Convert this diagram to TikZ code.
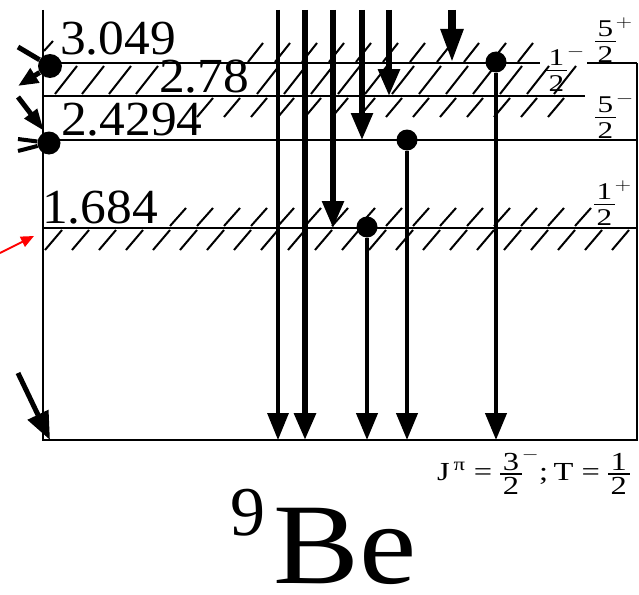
\documentclass[tikz,border=0pt]{standalone}
\usepackage{fontspec}
\usepackage{graphicx}
\setmainfont{Liberation Serif}
\usetikzlibrary{arrows.meta}
\newcommand{\fr}[3][0.1em]{\ensuremath{\vcenter{\offinterlineskip\halign{\hfil\kern0.08em##\kern0.08em\hfil\cr #2\cr\noalign{\kern#1\hrule height 0.06em\kern#1}#3\cr}}}}
\newcommand{\hatchrow}[6]{\foreach \hx in {#1,#2,...,#3}{\draw[hat] (\hx,#4) -- ++(#6,#5-#4);}}
\newcommand{\wide}[2]{\scalebox{#1}[1]{#2}}
\begin{document}
\begin{tikzpicture}[x=1pt,y=-1pt,
  lvl/.style={line width=2.6pt},
  hat/.style={line width=2pt},
  tarr/.style={line width=#1,-{Triangle[length=27pt,width=21pt]}},
  dot/.style={circle,fill=black,inner sep=0pt,minimum size=21pt},
  lab/.style={anchor=base west,inner sep=0pt,font=\fontsize{49}{49}\selectfont},
  jpl/.style={anchor=west,inner sep=0pt,font=\fontsize{24}{24}\selectfont}]
\useasboundingbox[fill=white] (0,0) rectangle (639,594);

% hatching (broad levels)
\draw[hat] (44,51) -- (53,41);
\hatchrow{248}{275}{527}{62}{43}{15}
\hatchrow{55}{82}{136}{94}{66}{22}
\hatchrow{257}{284}{555}{94}{66}{22}
\hatchrow{197}{224}{548}{117}{98}{16}
\hatchrow{170}{197}{584}{226}{208}{16}
\hatchrow{45}{72}{612}{250}{230}{17}

% frame and levels
\draw[lvl] (43,10) -- (43,440) -- (637,440) -- (637,63);
\draw[lvl] (43,63) -- (540,63);
\draw[lvl] (587,63) -- (637,63);
\draw[lvl] (43,96) -- (585,96);
\draw[lvl] (43,140) -- (637,140);
\draw[lvl] (43,228) -- (637,228);

% energy labels
\node[lab] (e3049) at (60,55) {\wide{1.05}{3.049}};
\node[lab] (e278) at (159,92) {\wide{1.05}{2.78}};
\node[lab] (e24294) at (61,135) {\wide{1.05}{2.4294}};
\node[lab] (e1684) at (42,223) {\wide{1.05}{1.684}};

% spin labels
\node[jpl] (s1) at (546,69) {\wide{1.3}{$\fr[0.18em]{1}{2}^{-}$}};
\node[jpl] (s2) at (595,40) {\wide{1.3}{$\fr[0.18em]{5}{2}^{+}$}};
\node[jpl] (s3) at (595,116) {\wide{1.3}{$\fr[0.18em]{5}{2}^{-}$}};
\node[jpl] (s4) at (594,203) {\wide{1.3}{$\fr[0.18em]{1}{2}^{+}$}};

% transitions from above
\coordinate (t1) at (278,10); \coordinate (b1) at (278,440);
\coordinate (t2) at (305,10); \coordinate (b2) at (305,440);
\coordinate (t3) at (333,10); \coordinate (b3) at (333,228);
\coordinate (t4) at (362,10); \coordinate (b4) at (362,140);
\coordinate (t5) at (389,10); \coordinate (b5) at (389,96);
\coordinate (t6) at (452,10); \coordinate (b6) at (452,63);
\draw[tarr=3.3pt] (t1) -- (b1);
\draw[tarr=6pt] (t2) -- (b2);
\draw[tarr=5.5pt] (t3) -- (b3);
\draw[tarr=5.5pt] (t4) -- (b4);
\draw[tarr=6pt] (t5) -- (b5);
\draw[tarr=8pt,-{Triangle[length=34pt,width=21pt]}] (t6) -- (b6);

% decays
\node[dot] (d1) at (367,227) {};
\node[dot] (d2) at (407,140) {};
\node[dot] (d3) at (496,62) {};
\coordinate (g1) at (367,440);
\coordinate (g2) at (407,440);
\coordinate (g3) at (496,440);
\draw[tarr=4.3pt] (d1) -- (g1);
\draw[tarr=4.3pt] (d2) -- (g2);
\draw[tarr=4.3pt] (d3) -- (g3);

% left edge (cropped transitions)
\node[dot,minimum size=24pt] (l1) at (50,66) {};
\node[dot,minimum size=23pt] (l2) at (49,143) {};
\coordinate (c1) at (18,47);
\coordinate (c2) at (18,86);
\coordinate (c3) at (18,97);
\coordinate (c4) at (44,131);
\coordinate (c5) at (18,139);
\coordinate (c6) at (18,151);
\draw[line width=5pt] (c1) -- (l1);
\draw[line width=5pt,-{Triangle[length=20pt,width=16pt]}] (l1) -- (c2);
\draw[line width=5pt,-{Triangle[length=22pt,width=15pt]}] (c3) -- (c4);
\draw[line width=4pt] (c5) -- (l2);
\draw[line width=4pt] (c6) -- (l2);
\coordinate (c7) at (18,373);
\coordinate (c8) at (50,440);
\draw[line width=5pt,-{Triangle[length=28pt,width=22pt]}] (c7) -- (c8);
\coordinate (r1) at (0,253);
\coordinate (r2) at (34,236);
\draw[red,line width=2pt,-{Triangle[length=13pt,width=11pt]}] (r1) -- (r2);

% ground state
\node[anchor=base west,inner sep=0pt,font=\fontsize{26}{26}\selectfont] (gs) at (437,480)
  {\wide{1.25}{J\textsuperscript{\,π}~=~$\fr{3}{2}^{-}$;\,T~=~$\fr{1}{2}$}};
\node[anchor=base west,inner sep=0pt,font=\fontsize{70}{70}\selectfont] (mass) at (230,535) {9};
\node[anchor=base west,inner sep=0pt,font=\fontsize{115}{115}\selectfont] (el) at (273,583) {\wide{1.12}{Be}};
\end{tikzpicture}
\end{document}
